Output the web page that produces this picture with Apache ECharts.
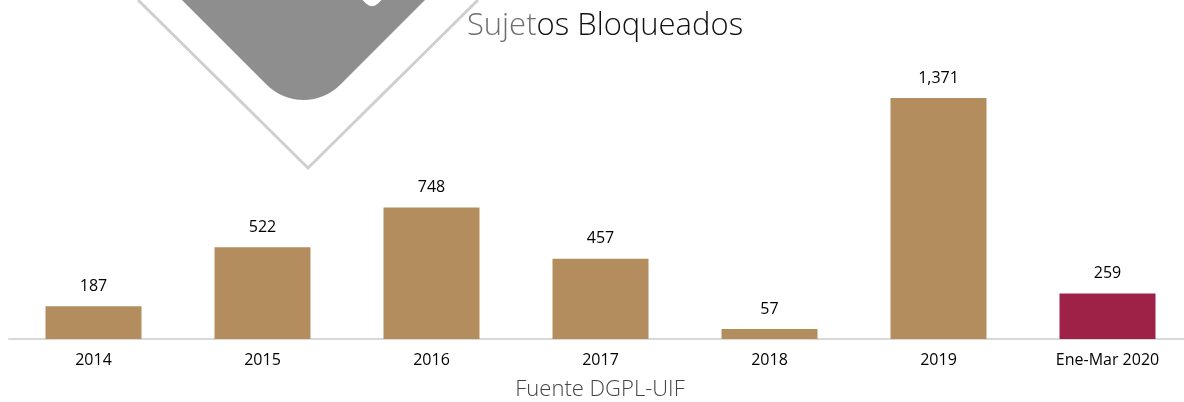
<!DOCTYPE html>
<html>
<head>
<meta charset="UTF-8">
<title>Sujetos Bloqueados</title>
<script src="https://cdn.jsdelivr.net/npm/echarts@6/dist/echarts.min.js"></script>
<style>
  html, body { margin: 0; padding: 0; background: #fff; overflow: hidden; }
  /* el eje sigue un poco más allá del borde derecho, como en la lámina original */
  #main { width: 1192px; height: 402px; }
</style>
</head>
<body>
<div id="main"></div>
<script type="text/javascript">
  // datos
  var categorias = ['2014', '2015', '2016', '2017', '2018', '2019', 'Ene-Mar 2020'];
  var sujetos = [187, 522, 748, 457, 57, 1371, 259];
  var colores = ['#B38D5D', '#B38D5D', '#B38D5D', '#B38D5D', '#B38D5D', '#B38D5D', '#9E2248'];

  var fuente = '"Open Sans", "Noto Sans", sans-serif';
  var myChart = echarts.init(document.getElementById('main'));

  var barras = sujetos.map(function (v, i) {
    return { value: v, itemStyle: { color: colores[i] } };
  });

  var option = {
    animation: false,
    title: {
      text: '{g|Sujet}{k|os Bloqueados}',
      left: 600,
      top: 6,
      textAlign: 'center',
      textStyle: {
        rich: {
          g: { fontFamily: fuente, fontSize: 31, fontWeight: 300, color: '#6f6f6f' },
          k: { fontFamily: fuente, fontSize: 31, fontWeight: 300, color: '#111' }
        }
      }
    },
    graphic: [
      // marca de agua de fondo
      {
        type: 'polyline', z: -10, silent: true,
        shape: { points: [[138, 0], [308, 168], [478, 0]] },
        style: { stroke: '#cfcfcf', lineWidth: 3, fill: null }
      },
      {
        type: 'rect', z: -9, silent: true,
        x: 303.5, y: -90.6, rotation: Math.PI / 4,
        shape: { x: -150, y: -150, width: 300, height: 300, r: 52 },
        style: { fill: '#8e8e8e' }
      },
      {
        type: 'rect', z: -8, silent: true,
        x: 372, y: -16, rotation: Math.PI / 4,
        shape: { x: -18, y: -18, width: 36, height: 36, r: 8 },
        style: { fill: '#fff' }
      },
      {
        type: 'text', silent: true,
        x: 600, y: 390,
        style: {
          text: 'Fuente DGPL-UIF',
          fill: '#444', font: '300 22px ' + fuente,
          align: 'center', verticalAlign: 'middle'
        }
      }
    ],
    grid: { left: 9, right: 0, top: 98, bottom: 63, containLabel: false },
    xAxis: {
      type: 'category',
      data: categorias,
      axisLine: { lineStyle: { color: '#d9d9d9', width: 2 } },
      axisTick: { show: false },
      axisLabel: { color: '#000', fontSize: 16, fontFamily: fuente, margin: 13 }
    },
    yAxis: {
      type: 'value',
      min: 0,
      max: 1371,
      show: false,
      splitLine: { show: false }
    },
    series: [{
      name: 'Sujetos Bloqueados',
      type: 'bar',
      barWidth: 96,
      data: barras,
      label: {
        show: true,
        position: 'top',
        distance: 12,
        color: '#000',
        fontSize: 16,
        fontFamily: fuente,
        formatter: function (p) { return p.value.toLocaleString('en-US'); }
      }
    }]
  };

  myChart.setOption(option);
</script>
</body>
</html>
